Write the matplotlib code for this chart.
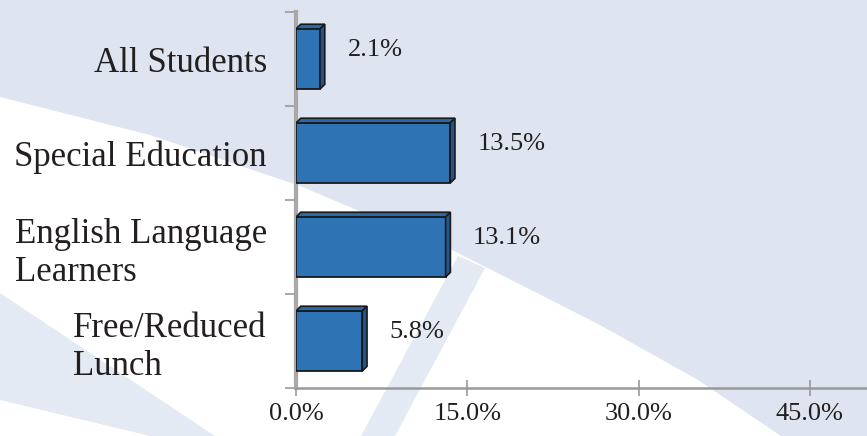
import matplotlib
matplotlib.use("Agg")
import matplotlib.pyplot as plt
from matplotlib.patches import Polygon

# Chart data
categories = ["All Students", "Special Education",
              "English Language\nLearners", "Free/Reduced\nLunch"]
values = [2.1, 13.5, 13.1, 5.8]
x_ticks = [0, 15, 30, 45]
x_tick_labels = ["0.0%", "15.0%", "30.0%", "45.0%"]

W, H = 867, 436
BG = "#dee5f0"
STRIPE = "#e4eaf3"

plt.rcParams["font.family"] = ["Liberation Serif", "DejaVu Serif"]

fig = plt.figure(figsize=(W / 100, H / 100), dpi=100)
fig.patch.set_facecolor(BG)


def px(points):
    # pixel coords (y from top) -> figure fraction
    return [(x / W, 1 - y / H) for x, y in points]


# decorative background swoosh
white_band = px([(0, 97), (150, 135), (300, 186), (452, 250), (600, 325),
                 (698, 380), (781, 436), (0, 436)])
fig.add_artist(Polygon(white_band, closed=True, transform=fig.transFigure,
                       facecolor="white", edgecolor="none", zorder=0))
left_stripe = px([(0, 293), (0, 400), (150, 436), (215, 436)])
fig.add_artist(Polygon(left_stripe, closed=True, transform=fig.transFigure,
                       facecolor=STRIPE, edgecolor="none", zorder=0))
diag_stripe = px([(361, 436), (395, 436), (485, 268), (458, 256)])
fig.add_artist(Polygon(diag_stripe, closed=True, transform=fig.transFigure,
                       facecolor=STRIPE, edgecolor="none", zorder=0))

ax = fig.add_axes([296 / W, (H - 388) / H, (W - 296) / W, 376 / H])
ax.set_facecolor("none")

n = len(categories)
ypos = list(range(n - 1, -1, -1))
bar_h = 0.64
dx, dy = 0.42, 0.05  # fake 3D depth

front = "#2E74B5"
top_c = "#2A69A6"
side_c = "#22558A"
edge = "#1a1a1a"
text_c = "#231f20"

ax.barh(ypos, values, height=bar_h, color=front, edgecolor=edge,
        linewidth=1.3, zorder=3)
for y, v in zip(ypos, values):
    yt, yb = y + bar_h / 2, y - bar_h / 2
    ax.add_patch(Polygon([(0, yt), (v, yt), (v + dx, yt + dy), (dx, yt + dy)],
                         closed=True, facecolor=top_c, edgecolor=edge,
                         linewidth=1.2, zorder=3))
    ax.add_patch(Polygon([(v, yb), (v + dx, yb + dy), (v + dx, yt + dy), (v, yt)],
                         closed=True, facecolor=side_c, edgecolor=edge,
                         linewidth=1.2, zorder=3))
    ax.text(v + 2.4, y + 0.1, f"{v:.1f}%", fontsize=19, va="center",
            ha="left", color=text_c)

ax.set_xlim(0, 50)
ax.set_ylim(-0.5, n - 0.5)

ax.set_xticks(x_ticks)
ax.set_xticklabels(x_tick_labels, fontsize=19, color=text_c)
ax.tick_params(axis="x", direction="inout", length=12, width=1.2,
               color="#999999", pad=5)

ax.set_yticks(ypos)
ax.set_yticklabels(categories, fontsize=25, color=text_c)
for lbl in ax.get_yticklabels():
    lbl.set_multialignment("left")
ax.tick_params(axis="y", which="major", length=0, pad=21)
ax.set_yticks([i - 0.5 for i in range(n + 1)], minor=True)
ax.tick_params(axis="y", which="minor", length=8, width=1.2,
               color="#999999", direction="out")

for s in ("top", "right"):
    ax.spines[s].set_visible(False)
ax.spines["left"].set_color("#a8a8a8")
ax.spines["left"].set_linewidth(3)
ax.spines["bottom"].set_color("#999999")
ax.spines["bottom"].set_linewidth(1.8)

fig.savefig("out.png", dpi=100, facecolor=fig.get_facecolor())
